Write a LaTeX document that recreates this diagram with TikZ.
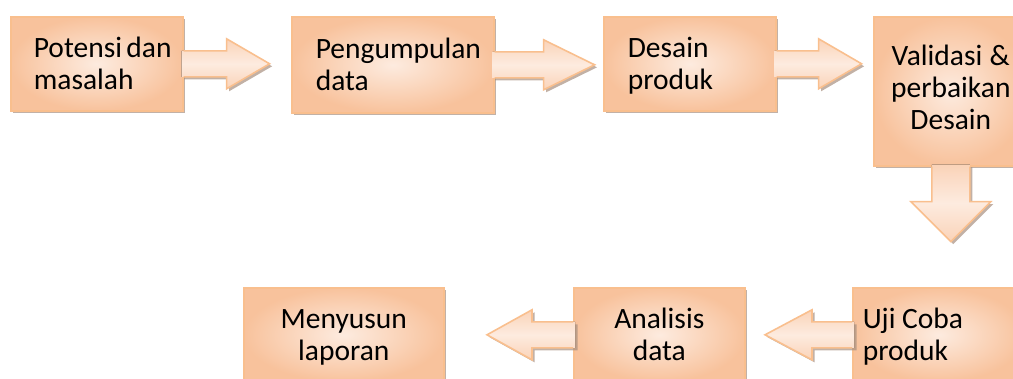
\documentclass[tikz,border=0pt]{standalone}
\usepackage{fontspec}
\setmainfont{Carlito}
\usepackage{tikz}
\usetikzlibrary{shadows}
\usetikzlibrary{calc}

\definecolor{peachdark}{HTML}{F8C29C}
\definecolor{peachlight}{HTML}{FDEBDF}
\definecolor{peachmid}{HTML}{FAD3B8}
\definecolor{peachedge}{HTML}{F9BF8E}
\definecolor{peachshadow}{HTML}{A89080}

\tikzset{
  stepbox/.style={draw=peachedge, line width=1.6pt, anchor=north west,
    inner color=peachlight, outer color=peachdark,
    drop shadow={shadow xshift=2.5pt, shadow yshift=-2.5pt, fill=peachshadow, opacity=.7},
    inner ysep=0pt, minimum height=94pt, text height=20pt, text depth=32pt,
    font=\fontsize{29.5}{31.6}\selectfont,
    execute at begin node={\spaceskip=0pt\xspaceskip=0pt\relax}},
  arrowbody/.style={top color=peachmid, bottom color=peachmid, middle color=peachlight,
    drop shadow={shadow xshift=2.5pt, shadow yshift=-2.5pt, fill=peachshadow, opacity=.7}},
  arrowedge/.style={draw=peachedge, line width=1.6pt, line join=miter},
}

% #1 start, #2 angle, #3 shaft, #4 head, #5 half shaft, #6 half head
\newcommand{\blockarrow}[6]{%
  \begin{scope}[shift={(#1)}, rotate=#2]
    \fill[arrowbody] (-2,-#5) -- (#3,-#5) -- (#3,-#6) -- (#3+#4,0) -- (#3,#6) -- (#3,#5) -- (-2,#5) -- cycle;
    \draw[arrowedge] (0,-#5) -- (#3,-#5) -- (#3,-#6) -- (#3+#4,0) -- (#3,#6) -- (#3,#5) -- (0,#5);
  \end{scope}}

\begin{document}
\begin{tikzpicture}[x=1pt, y=-1pt]
  \useasboundingbox (0,0) rectangle (1013,378);
  \clip (0,0) rectangle (1013,378);

  % top row
  \node[stepbox, align=left, text width=126pt, inner xsep=23pt] (p1) at (10,16) {Potensi~dan\\masalah};
  \blockarrow{p1.east}{0}{43}{43}{13}{25}
  \node[stepbox, align=left, text width=154pt, inner xsep=24pt, minimum height=96pt] (p2) at (291,16) {Pengumpulan\\data};
  \blockarrow{p2.east}{0}{49}{51}{13}{25}
  \node[stepbox, align=left, text width=124pt, inner xsep=24pt] (p3) at (603,16) {Desain\\produk};
  \blockarrow{p3.east}{0}{42}{43}{13}{25}
  \node[stepbox, align=center, text width=146pt, inner xsep=4pt, minimum height=149pt,
    text height=12pt, text depth=63pt] (p4) at (873,16) {Validasi~\&\\perbaikan\\Desain};
  \blockarrow{p4.south}{-90}{35}{40}{19}{40}

  % bottom row
  \node[stepbox, align=left, text width=152pt, inner xsep=10pt] (p7) at (852,287) {Uji~Coba\\produk};
  \blockarrow{p7.west}{180}{40}{47}{13}{25}
  \node[stepbox, align=center, text width=163pt, inner xsep=4pt] (p6) at (573,287) {Analisis\\data};
  \blockarrow{p6.west}{180}{41}{45}{13}{25}
  \node[stepbox, align=center, text width=192pt, inner xsep=4pt] (p5) at (243,287) {Menyusun\\laporan};
\end{tikzpicture}
\end{document}
